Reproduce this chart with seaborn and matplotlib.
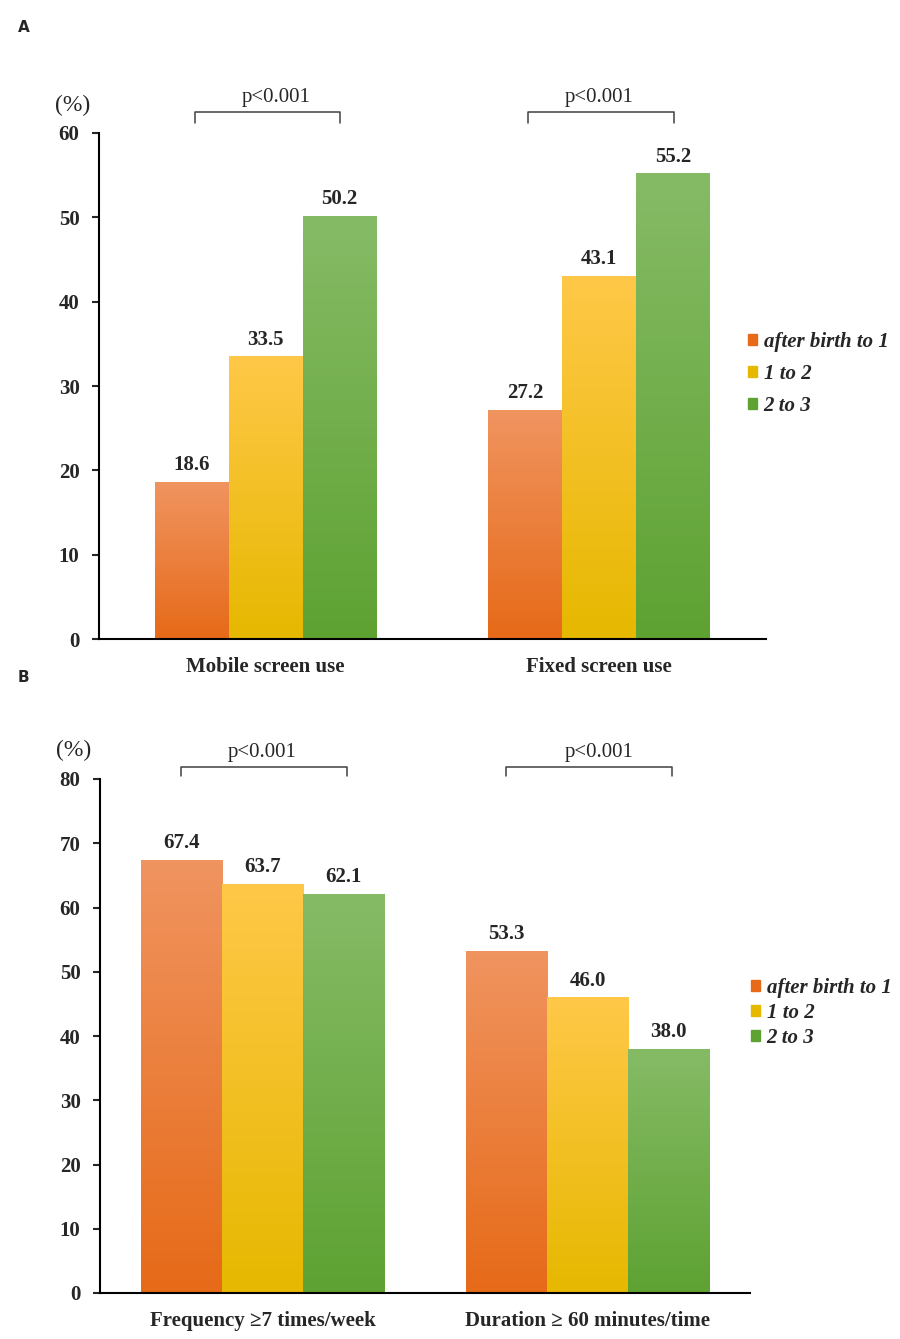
import numpy as np
import pandas as pd
import matplotlib
matplotlib.use("Agg")
import matplotlib.pyplot as plt
import matplotlib.colors as mcolors
import seaborn as sns

## data
age_groups = ["after birth to 1", "1 to 2", "2 to 3"]

a_categories = ["Mobile screen use", "Fixed screen use"]
a_values = {
    "after birth to 1": [18.6, 27.2],
    "1 to 2": [33.5, 43.1],
    "2 to 3": [50.2, 55.2],
}

b_categories = ["Frequency \u22657 times/week", "Duration \u2265 60 minutes/time"]
b_values = {
    "after birth to 1": [67.4, 53.3],
    "1 to 2": [63.7, 46.0],
    "2 to 3": [62.1, 38.0],
}

p_text = "p<0.001"

## gradient colours (top, bottom) per age group
grad_colors = {
    "after birth to 1": ("#F09460", "#E66A18"),
    "1 to 2": ("#FFC848", "#E6B800"),
    "2 to 3": ("#86BB66", "#5EA232"),
}
solid_colors = {k: v[1] for k, v in grad_colors.items()}

sns.set_style("white")
plt.rcParams['font.family'] = ['Liberation Serif', 'DejaVu Serif']


def long_frame(categories, values):
    rows = []
    for g in age_groups:
        for c, v in zip(categories, values[g]):
            rows.append({"Category": c, "Age": g, "Value": v})
    return pd.DataFrame(rows)


def add_gradients(ax, hue_order):
    # bars are drawn hue by hue by seaborn
    bars = [p for p in ax.patches if p.get_height() > 0]
    n_cat = len(bars) // len(hue_order)
    for i, bar in enumerate(bars):
        g = hue_order[i // n_cat]
        top, bottom = grad_colors[g]
        cmap = mcolors.LinearSegmentedColormap.from_list(g, [bottom, top])
        x0, y0 = bar.get_x(), bar.get_y()
        x1, y1 = x0 + bar.get_width(), y0 + bar.get_height()
        grad = np.linspace(0, 1, 256).reshape(-1, 1)
        im = ax.imshow(grad, cmap=cmap, aspect='auto', origin='lower',
                       extent=[x0, x1, y0, y1], zorder=2)
        im.set_clip_path(bar)


def draw_panel(ax, df, categories, ymax, ystep, width, bracket_half, b_y, b_tick, p_y, p_shift):
    sns.barplot(data=df, x="Category", y="Value", hue="Age", order=categories,
                hue_order=age_groups, palette=solid_colors, width=width,
                ax=ax, legend=False, saturation=1)
    add_gradients(ax, age_groups)
    ax.set_xlim(-0.5, 1.5)
    ax.set_ylim(0, ymax)
    ax.set_yticks(np.arange(0, ymax + 1, ystep))
    ax.set_xlabel("")
    ax.set_ylabel("")
    for s in ["top", "right"]:
        ax.spines[s].set_visible(False)
    for s in ["left", "bottom"]:
        ax.spines[s].set_color("black")
        ax.spines[s].set_linewidth(1.5)
    ax.tick_params(axis='y', direction='out', length=5, width=1.5, left=True,
                   labelsize=15, pad=9)
    ax.tick_params(axis='x', length=0, labelsize=15, pad=13)
    for lab in ax.get_yticklabels() + ax.get_xticklabels():
        lab.set_fontweight('bold')

    # value labels
    for cont in ax.containers:
        ax.bar_label(cont, fmt="%.1f", padding=5, fontsize=15, fontweight='bold')

    # p-value brackets
    for i in range(len(categories)):
        xl, xr = i - bracket_half, i + bracket_half + 0.01
        ax.plot([xl, xl, xr, xr], [b_tick, b_y, b_y, b_tick], color="#404040",
                lw=1.1, clip_on=False)
        ax.text(i + p_shift[i], p_y, p_text, ha='center', va='center', fontsize=15)

    ax.text(-0.04, 1.055, "(%)", transform=ax.transAxes, ha='center', va='center',
            fontsize=17)


fig = plt.figure(figsize=(9, 13.39), dpi=100)

ax_a = fig.add_axes([99 / 900, 1 - 639 / 1339, (766 - 99) / 900, (639 - 133) / 1339])
ax_b = fig.add_axes([100 / 900, 1 - 1293 / 1339, (750 - 100) / 900, (1293 - 779) / 1339])

df_a = long_frame(a_categories, a_values)
df_b = long_frame(b_categories, b_values)

draw_panel(ax_a, df_a, a_categories, 60, 10, 0.665, 0.213, 62.5, 61.2, 64.2, [0.03, 0.0])
draw_panel(ax_b, df_b, b_categories, 80, 10, 0.75, 0.25, 81.9, 80.5, 84.1, [0.0, 0.035])

# legends
handles = [plt.Rectangle((0, 0), 1, 1, color=solid_colors[g]) for g in age_groups]
leg_font = {'family': ['Liberation Serif'], 'style': 'italic', 'weight': 'bold', 'size': 15}
fig.legend(handles, age_groups, loc='center left', bbox_to_anchor=(748 / 900, 1 - 374 / 1339),
           frameon=False, prop=leg_font, handlelength=0.45, handleheight=0.45,
           handletextpad=0.3, labelspacing=0.58, borderaxespad=0, borderpad=0)
fig.legend(handles, age_groups, loc='center left', bbox_to_anchor=(751 / 900, 1 - 1013 / 1339),
           frameon=False, prop=leg_font, handlelength=0.45, handleheight=0.45,
           handletextpad=0.3, labelspacing=0.25, borderaxespad=0, borderpad=0)

# panel letters
fig.text(18 / 900, 1 - 28 / 1339, "A", fontsize=11, fontweight='bold',
         family=['DejaVu Sans'], va='center')
fig.text(18 / 900, 1 - 677 / 1339, "B", fontsize=11, fontweight='bold',
         family=['DejaVu Sans'], va='center')

fig.savefig("out.png", dpi=100)
